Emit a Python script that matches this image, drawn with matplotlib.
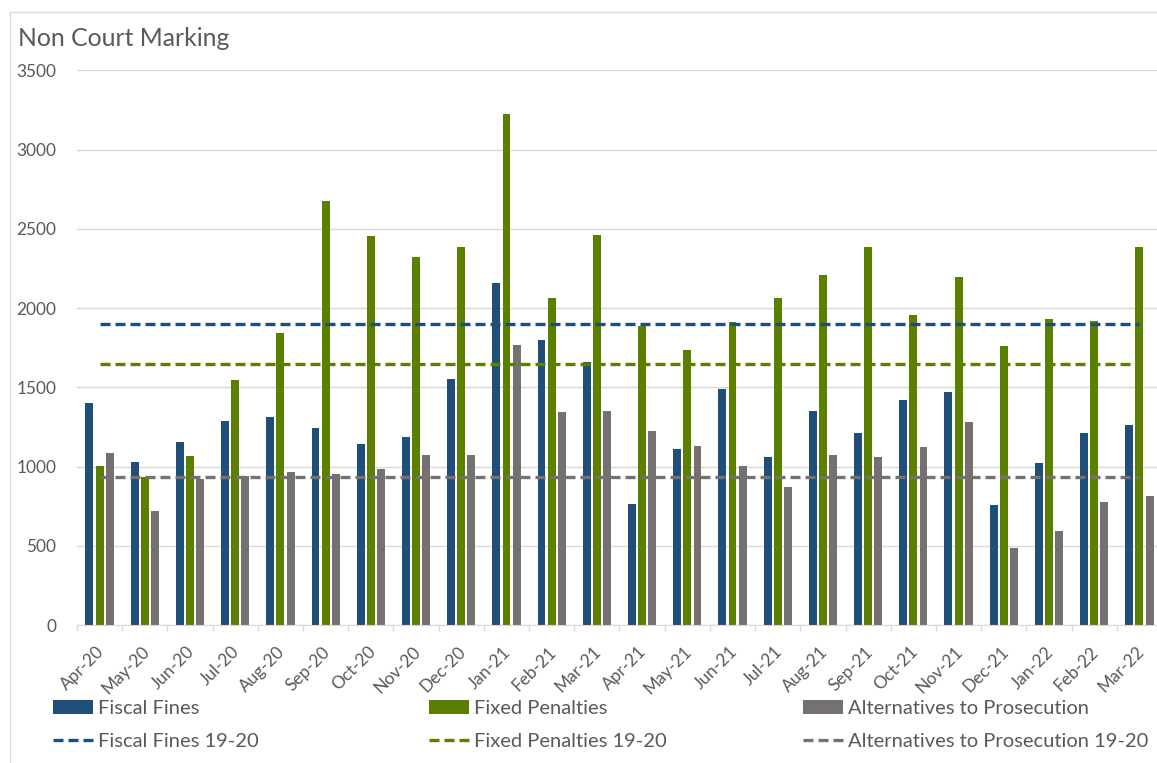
import matplotlib.pyplot as plt
import matplotlib.transforms as mtransforms
import numpy as np
from matplotlib.patches import Rectangle

months = ['Apr-20', 'May-20', 'Jun-20', 'Jul-20', 'Aug-20', 'Sep-20',
          'Oct-20', 'Nov-20', 'Dec-20', 'Jan-21', 'Feb-21', 'Mar-21',
          'Apr-21', 'May-21', 'Jun-21', 'Jul-21', 'Aug-21', 'Sep-21',
          'Oct-21', 'Nov-21', 'Dec-21', 'Jan-22', 'Feb-22', 'Mar-22']
fiscal_fines = [1400, 1030, 1155, 1285, 1310, 1245, 1140, 1185, 1550, 2160, 1800, 1660,
                762, 1112, 1490, 1063, 1348, 1209, 1419, 1468, 758, 1021, 1209, 1261]
fixed_penalties = [1006, 932, 1069, 1547, 1843, 2677, 2456, 2320, 2384, 3222, 2066, 2462,
                   1889, 1738, 1909, 2063, 2209, 2382, 1954, 2194, 1758, 1931, 1921, 2382]
alternatives = [1088, 720, 920, 943, 968, 953, 985, 1073, 1072, 1765, 1342, 1351,
                1227, 1129, 1001, 868, 1070, 1059, 1122, 1280, 484, 594, 773, 817]
fiscal_fines_1920 = 1900
fixed_penalties_1920 = 1645
alternatives_1920 = 935

BLUE = '#1F4E79'
GREEN = '#5B8000'
GREY = '#767171'
TEXT = '#595959'
GRID = '#D9D9D9'

plt.rcParams['font.family'] = ['Lato', 'DejaVu Sans']

W, H = 1157, 763
fig = plt.figure(figsize=(W / 100, H / 100), dpi=100)
fig.patches.append(Rectangle((10 / W, -0.01), 1.0, 1 - 12 / H + 0.01, transform=fig.transFigure,
                             fill=False, edgecolor=GRID, linewidth=1))

ax = fig.add_axes([77 / W, 1 - 625 / H, 1085 / W, (625 - 70.3) / H])

x = np.arange(len(months))
w = 0.175
off = 0.225
b1 = ax.bar(x - off, fiscal_fines, w, color=BLUE, zorder=3)
b2 = ax.bar(x, fixed_penalties, w, color=GREEN, zorder=3)
b3 = ax.bar(x + off, alternatives, w, color=GREY, zorder=3)

dash = dict(linewidth=2.4, linestyle=(0, (3, 1.5)), zorder=4)
l1, = ax.plot(x, np.full(len(x), fiscal_fines_1920), color=BLUE, **dash)
l2, = ax.plot(x, np.full(len(x), fixed_penalties_1920), color=GREEN, **dash)
l3, = ax.plot(x, np.full(len(x), alternatives_1920), color=GREY, **dash)

ax.set_xlim(-0.5, len(months) - 0.5)
ax.set_ylim(0, 3500)
ax.set_yticks(np.arange(0, 3501, 500))
ax.grid(axis='y', color=GRID, linewidth=1, zorder=0)
for s in ['left', 'right', 'top']:
    ax.spines[s].set_visible(False)
ax.spines['bottom'].set_color(GRID)
ax.spines['bottom'].set_zorder(5)

ax.set_xticks(x)
ax.set_xticklabels(months, rotation=45, ha='right', va='center', rotation_mode='anchor')
ax.set_xticks(np.arange(-0.5, len(months)), minor=True)
ax.tick_params(axis='x', which='major', length=0, pad=17.5, labelsize=12.4, labelcolor=TEXT)
ax.tick_params(axis='x', which='minor', length=4, color=GRID, width=1)
ax.tick_params(axis='y', length=0, pad=15, labelsize=12.4, labelcolor=TEXT)

# nudge the slanted month labels a few pixels right
shift = mtransforms.ScaledTranslation(0.02, 0, fig.dpi_scale_trans)
for lbl in ax.get_xticklabels():
    lbl.set_transform(lbl.get_transform() + shift)

fig.text(18 / W, 1 - 46 / H, 'Non Court Marking', fontsize=17.8, color=TEXT, va='baseline')

# legend: three columns, bars on top row, 19-20 averages underneath
fs = 14.5
fpx = fs * 100 / 72
cols = [(53, b1, l1, 'Fiscal Fines'),
        (429, b2, l2, 'Fixed Penalties'),
        (803, b3, l3, 'Alternatives to Prosecution')]
for xpos, bar, line, name in cols:
    fig.legend([bar, line], [name, name + ' 19-20'], loc='upper left',
               bbox_to_anchor=(xpos / W, 1 - 700 / H), frameon=False, fontsize=fs,
               labelcolor=TEXT, borderpad=0, borderaxespad=0,
               handlelength=40 / fpx, handleheight=14 / fpx, handletextpad=5 / fpx,
               labelspacing=0.8)

fig.savefig('out.png', dpi=100)
